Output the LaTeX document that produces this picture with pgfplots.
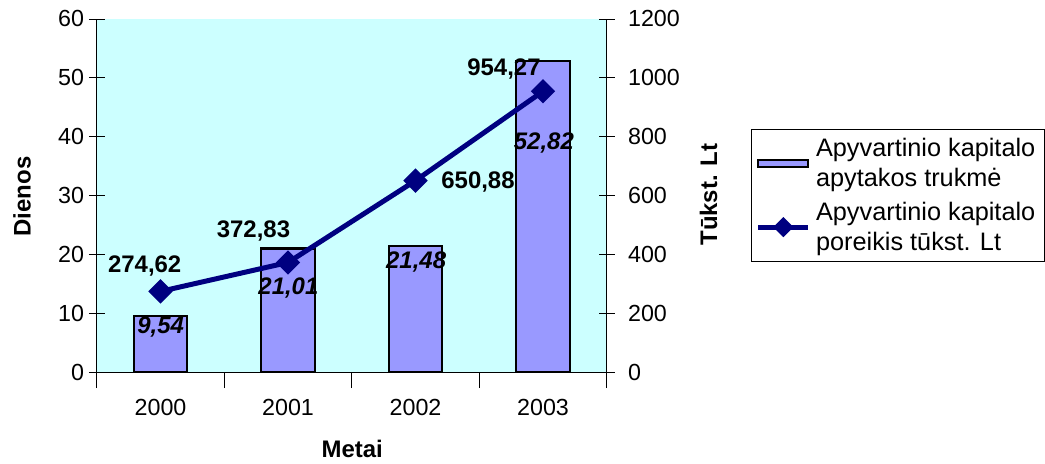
\documentclass[border=0pt]{standalone}
\usepackage{fontspec}
\setmainfont{Liberation Sans}
\usepackage{pgfplots}
\pgfplotsset{compat=1.18}
\definecolor{bg}{HTML}{CCFFFF}
\definecolor{barc}{HTML}{9999FF}
\definecolor{navyc}{HTML}{000080}
\pgfplotsset{mylineleg/.style={legend image code/.code={\draw[##1, mark repeat=2, mark phase=2, mark size=3.5pt] plot coordinates {(0pt,0pt)(18.75pt,0pt)(37.5pt,0pt)};}}}
\begin{document}
\begin{tikzpicture}
\begin{scope}[x=0.75pt,y=0.75pt,shift={(-72.75pt,-68.25pt)}]
\useasboundingbox (0,0) rectangle (1045,464);
\end{scope}
\pgfplotsset{common/.style={
  at={(0pt,0pt)}, anchor=south west, scale only axis, width=383.25pt, height=265.5pt,
  xmin=-0.5, xmax=3.5,
  tick align=center, major tick length=12pt, minor tick length=12pt,
  tick style={black, line width=0.6pt},
  axis line style={black, line width=0.8pt},
  ticklabel style={font=\fontsize{17.5}{20}\selectfont},
  /pgf/number format/assume math mode=true,
  /pgf/number format/1000 sep={},
}}
\begin{axis}[common,
  axis x line*=bottom, axis y line*=left,
  ymin=0, ymax=60, ytick={0,10,...,60},
  xtick={-0.5,0.5,1.5,2.5,3.5}, xticklabels={},
  extra x ticks={0,1,2,3}, extra x tick labels={2000,2001,2002,2003},
  extra x tick style={major tick length=0pt, xticklabel style={yshift=-17pt}},
  axis background/.style={fill=bg},
  ybar, bar width=40pt,
]
\addplot[fill=barc, draw=black, line width=1.6pt] coordinates {(0,9.54)(1,21.01)(2,21.48)(3,52.82)};
\end{axis}
\begin{axis}[common,
  axis x line=none, axis y line*=right,
  ymin=0, ymax=1200, ytick={0,200,...,1200},
  yticklabel style={xshift=6.5pt},
  legend style={at={(1.2838,0.6893)}, anchor=north west, draw=black, line width=0.6pt,
    font=\fontsize{19}{22.5}\selectfont, nodes={align=left, inner xsep=4pt}, row sep=6pt,
    inner ysep=5pt},
  legend cell align=left,
]
\addlegendimage{legend image code/.code={\draw[fill=barc, draw=black, line width=1.5pt] (0pt,-2.6pt) rectangle (37.5pt,2.6pt);}}
\addlegendentry{Apyvartinio kapitalo\\apytakos trukmė}
\addplot[navyc, line width=3.75pt, mark=square*, mark size=4.6pt, mark options={rotate=45, solid}, mylineleg]
  coordinates {(0,274.62)(1,372.83)(2,650.88)(3,954.27)};
\addlegendentry{Apyvartinio kapitalo\\poreikis tūkst. Lt}
\end{axis}
\begin{scope}[x=0.75pt,y=0.75pt,shift={(-72.75pt,-68.25pt)},every node/.style={font=\bfseries\fontsize{18}{20}\selectfont}]
\node at (145,197) {274,62};
\node at (254,233) {372,83};
\node at (479,282) {650,88};
\node at (505,395) {954,27};
\node[font=\bfseries\itshape\fontsize{18}{20}\selectfont] at (161,136) {9,54};
\node[font=\bfseries\itshape\fontsize{18}{20}\selectfont] at (289,175) {21,01};
\node[font=\bfseries\itshape\fontsize{18}{20}\selectfont] at (417,201) {21,48};
\node[font=\bfseries\itshape\fontsize{18}{20}\selectfont] at (545,321) {52,82};
\node[rotate=90] at (22,267) {Dienos};
\node[rotate=90] at (710,269) {Tūkst. Lt};
\node at (353,14) {Metai};
\end{scope}
\end{tikzpicture}
\end{document}
